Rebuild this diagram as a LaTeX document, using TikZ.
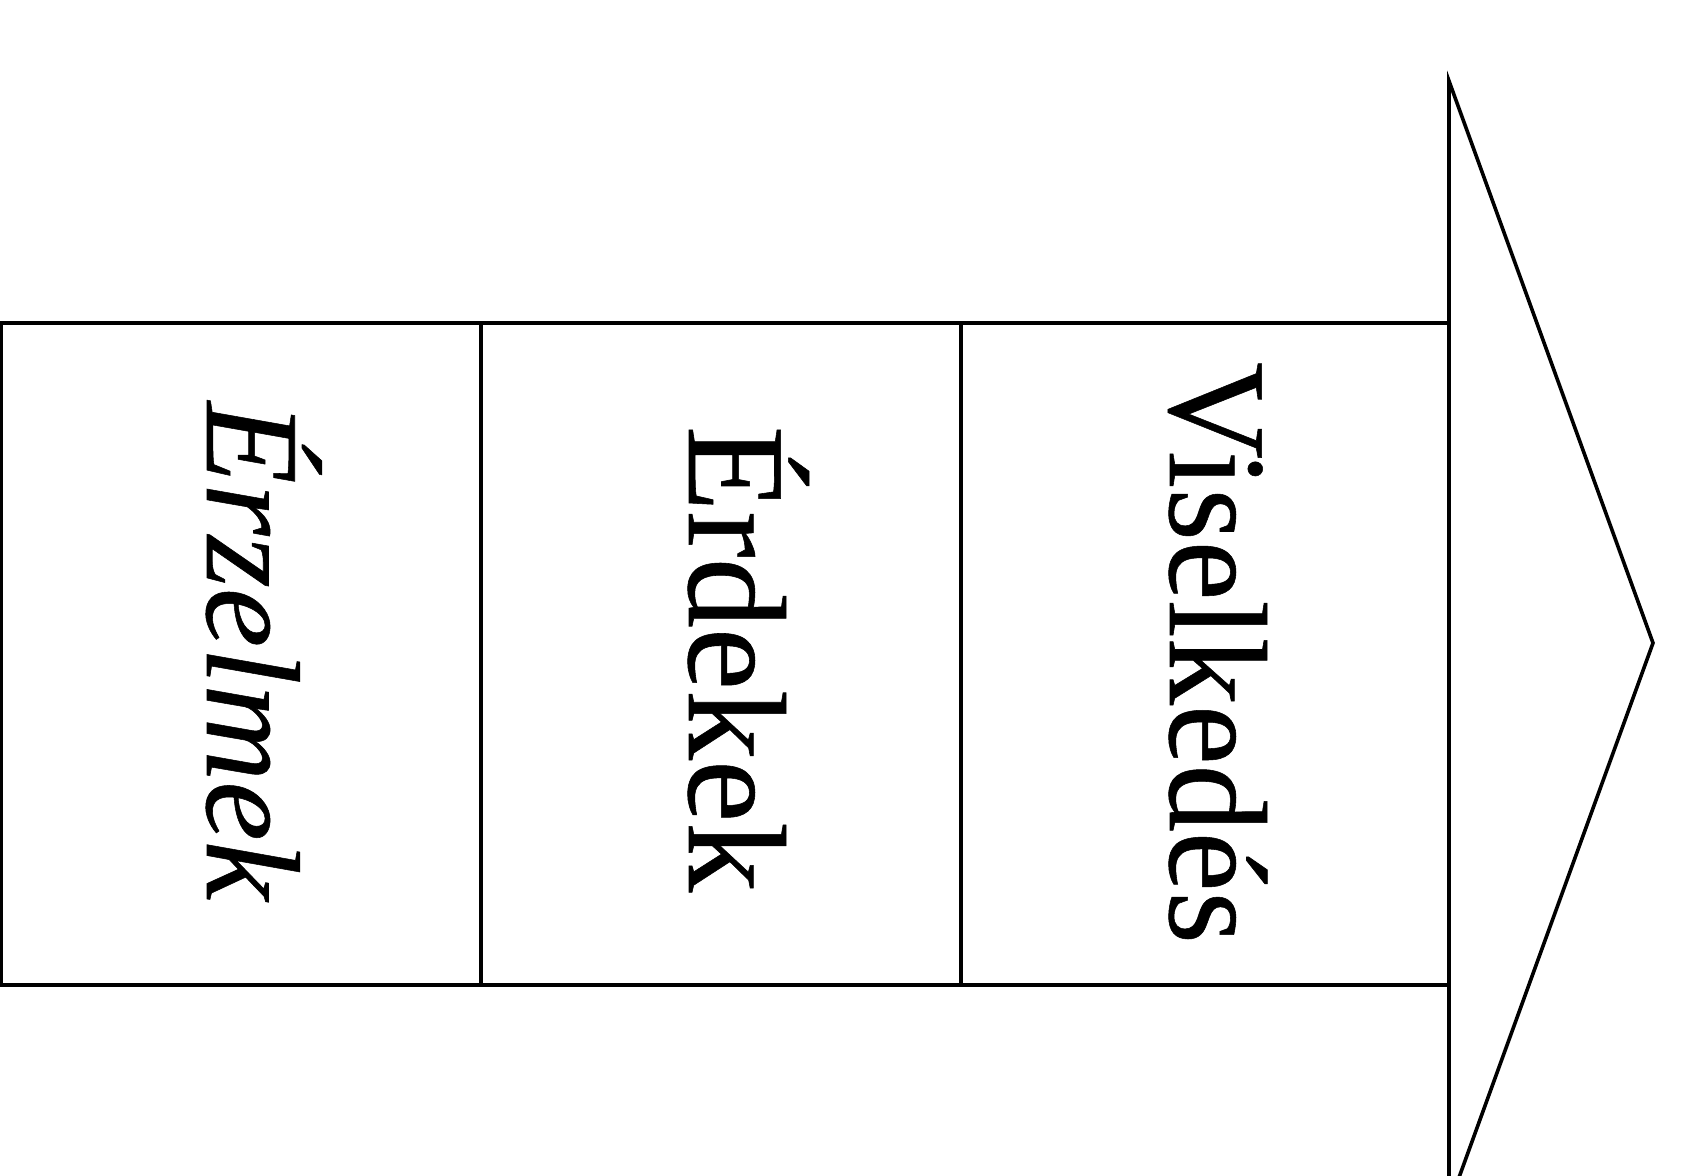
\documentclass[tikz,border=0pt]{standalone}
\usepackage{fontspec}
\setmainfont[FakeBold=0.4]{Liberation Serif}
\begin{document}
\begin{tikzpicture}[x=0.5pt,y=0.5pt,
  boxline/.style={draw=black,line width=2.1pt},
  arrowline/.style={draw=black,line width=1.8pt,line join=miter},
  lbl/.style={rotate=-90,anchor=base,inner sep=0pt}]
\useasboundingbox (0,0) rectangle (1687,1176);
\begin{scope}
\clip (0,0) rectangle (1687,1176);
% arrowhead
\coordinate (atop) at (1449,1095);
\coordinate (atip) at (1653,533);
\coordinate (abot) at (1449,-29);
\draw[arrowline] (atop) -- (atip) -- (abot) -- cycle;
\end{scope}
% boxes
\draw[boxline] (1,853) rectangle (481,191);
\draw[boxline] (481,853) rectangle (961,191);
\draw[boxline] (961,853) rectangle (1449,191);
% labels
\node[lbl,font=\fontsize{67}{67}\selectfont\itshape] (t1) at (207,525) {Érzelmek};
\node[lbl,font=\fontsize{70}{70}\selectfont] (t2) at (689,517) {Érdekek};
\node[lbl,font=\fontsize{70}{70}\selectfont,xscale=0.96] (t3) at (1170,523) {Viselkedés};
\end{tikzpicture}
\end{document}
